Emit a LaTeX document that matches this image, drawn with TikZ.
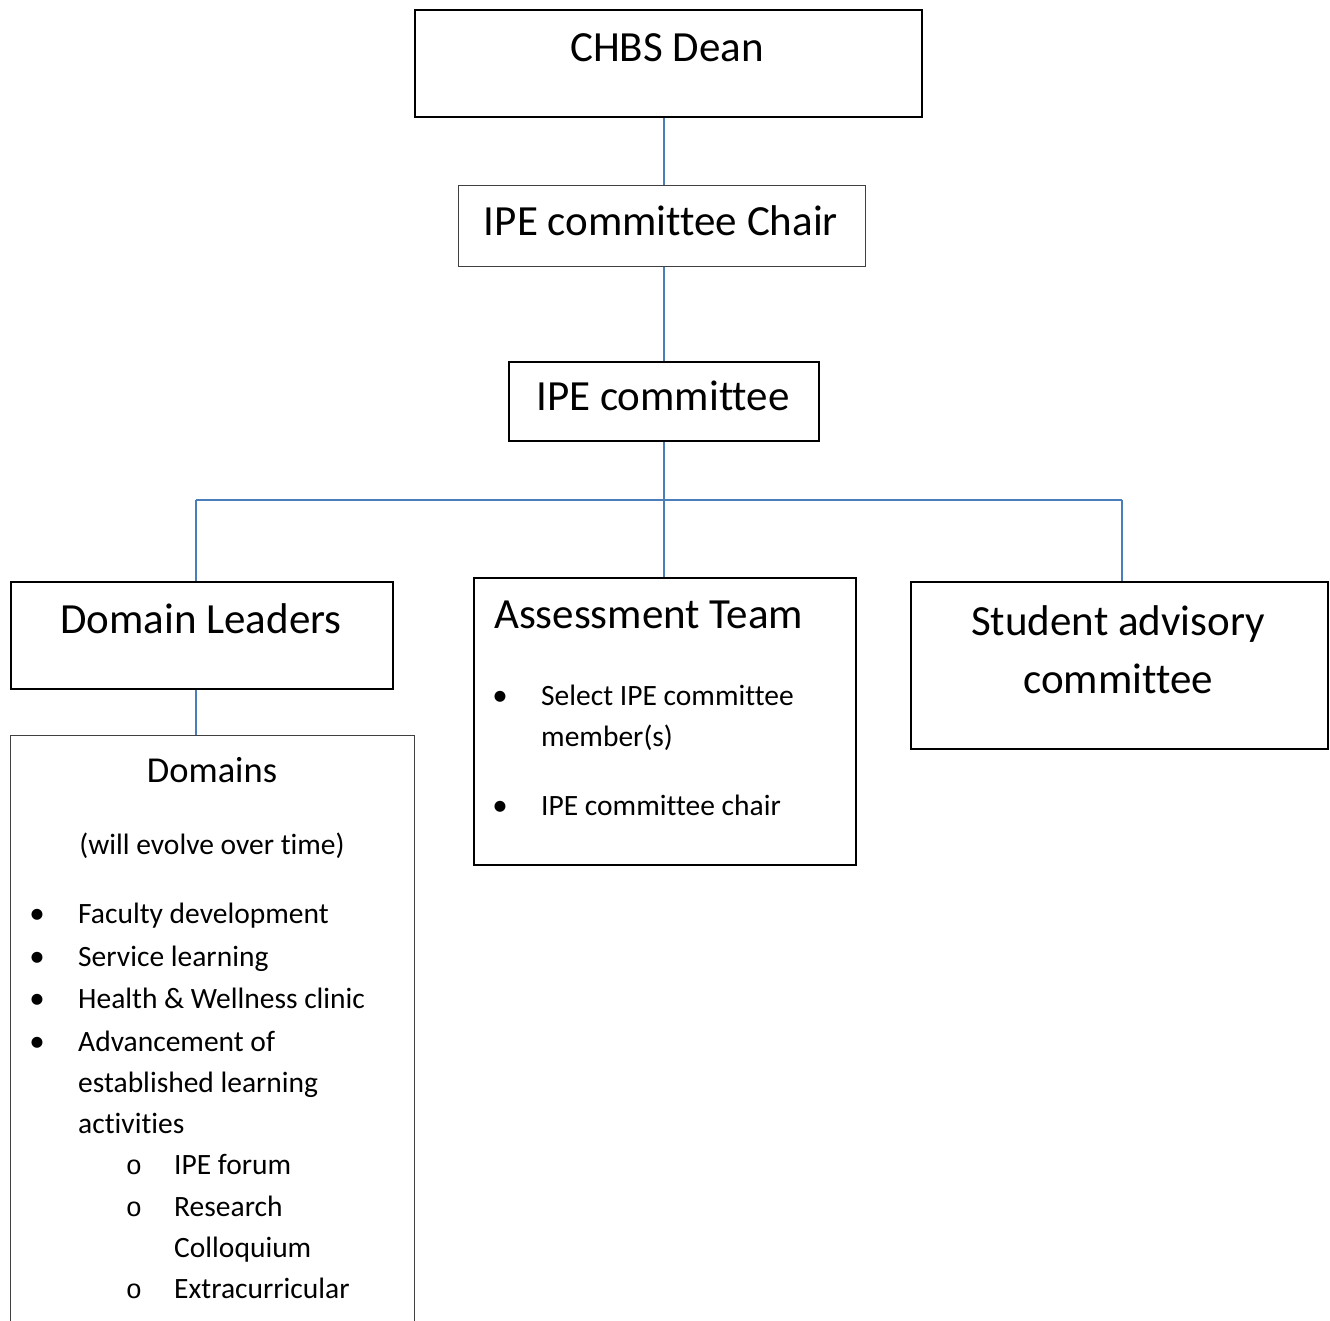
\documentclass[tikz,border=0pt]{standalone}
\usepackage{fontspec}
\setmainfont{Carlito}[Ligatures={NoCommon}]
\newfontfamily\markfont{Liberation Mono}
\usetikzlibrary{positioning}
\definecolor{linkblue}{HTML}{4A7EBB}
\definecolor{framegray}{HTML}{404040}

\tikzset{
  box/.style={draw, line width=1.8pt, anchor=north west, inner sep=0pt},
  thinbox/.style={draw=framegray, line width=1.3pt, anchor=north west, inner sep=0pt},
  link/.style={draw=linkblue, line width=1.4pt},
  title/.style={font=\fontsize{43}{50}\selectfont, anchor=base, inner sep=0pt},
  entry/.style={font=\fontsize{29.5}{34}\selectfont, anchor=base west, inner sep=0pt},
  bul/.style={font=\fontsize{31}{34}\selectfont, anchor=base, inner sep=0pt},
  subbul/.style={font=\markfont\fontsize{27}{32}\selectfont, anchor=base, inner sep=0pt},
}

\begin{document}
\begin{tikzpicture}[x=1pt,y=-1pt]
\clip (0,0) rectangle (1330,1320);

% boxes
\node[box, minimum width=507, minimum height=107] (1) at (414,9) {};
\node[thinbox, minimum width=407, minimum height=81] (2) at (458,185) {};
\node[box, minimum width=310, minimum height=79] (3) at (508,361) {};
\node[box, minimum width=382, minimum height=107] (4) at (10,581) {};
\node[box, minimum width=382, minimum height=287] (5) at (473,577) {};
\node[box, minimum width=417, minimum height=167] (6) at (910,581) {};
\node[thinbox, minimum width=404, minimum height=640] (7) at (10,735) {};

% titles
\node[title] (t1) at (667,61) {CHBS Dean};
\node[title] (t2) at (661,235) {IPE committee Chair};
\node[title] (t3) at (663,410) {IPE committee};
\node[title] (t4) at (201,633) {Domain Leaders};
\node[title, anchor=base west] (t5) at (494,628) {Assessment Team};
\node[title] (t6a) at (1118,635) {Student advisory};
\node[title] (t6b) at (1118,693) {committee};
\node[title, font=\fontsize{36.5}{40}\selectfont] (t7) at (212,782) {Domains};
\node[entry, anchor=base] (t7b) at (212,854) {(will evolve over time)};

% assessment team list
\node[bul] (a1) at (500,705) {•};
\node[entry] (a1t) at (541,705) {Select IPE committee};
\node[entry] (a1u) at (541,746) {member(s)};
\node[bul] (a2) at (500,815) {•};
\node[entry] (a2t) at (541,815) {IPE committee chair};

% domains list
\node[bul] (d1) at (37,923) {•};
\node[entry] (d1t) at (78,923) {Faculty development};
\node[bul] (d2) at (37,966) {•};
\node[entry] (d2t) at (78,966) {Service learning};
\node[bul] (d3) at (37,1008) {•};
\node[entry] (d3t) at (78,1008) {Health \& Wellness clinic};
\node[bul] (d4) at (37,1051) {•};
\node[entry] (d4t) at (78,1051) {Advancement of};
\node[entry] (d4u) at (78,1092) {established learning};
\node[entry] (d4v) at (78,1133) {activities};
\node[subbul] (s1) at (134,1174) {o};
\node[entry] (s1t) at (174,1174) {IPE forum};
\node[subbul] (s2) at (134,1216) {o};
\node[entry] (s2t) at (174,1216) {Research};
\node[entry] (s2u) at (174,1257) {Colloquium};
\node[subbul] (s3) at (134,1298) {o};
\node[entry] (s3t) at (174,1298) {Extracurricular};

% connectors
\coordinate (busL) at (196,500);
\coordinate (busM) at (664,500);
\coordinate (busR) at (1122,500);
\draw[link] (1.south -| busM) -- (2.north -| busM);
\draw[link] (2.south -| busM) -- (3.north -| busM);
\draw[link] (3.south -| busM) -- (5.north -| busM);
\draw[link] (busL) -- (busR);
\draw[link] (busL) -- (busL |- 4.north);
\draw[link] (busR) -- (busR |- 6.north);
\draw[link] (4.south -| busL) -- (7.north -| busL);
\end{tikzpicture}
\end{document}
